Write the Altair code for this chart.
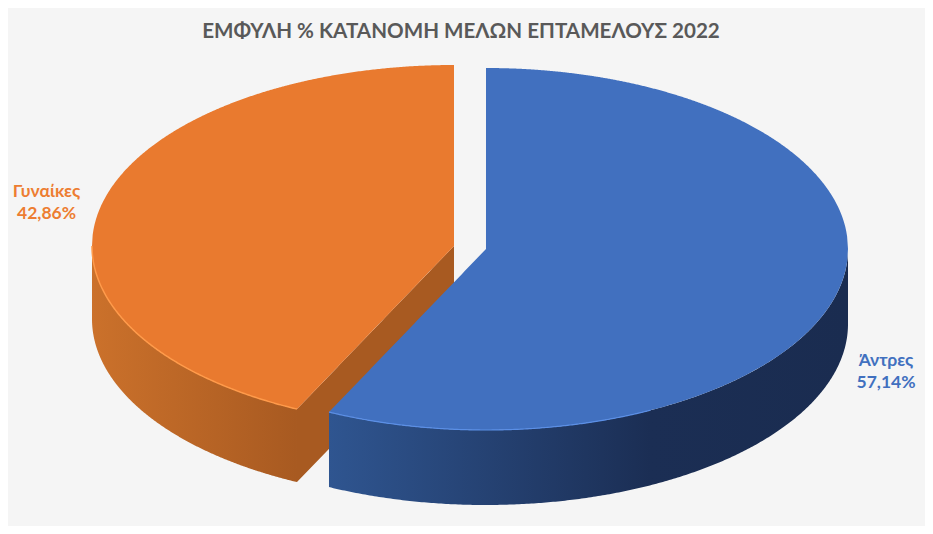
import numpy as np
import pandas as pd
import altair as alt

TITLE = "ΕΜΦΥΛΗ % ΚΑΤΑΝΟΜΗ ΜΕΛΩΝ ΕΠΤΑΜΕΛΟΥΣ 2022"
categories = ["Άντρες", "Γυναίκες"]
shares = [57.14, 42.86]
value_labels = ["57,14%", "42,86%"]
top_colors = ["#4170BF", "#E97A2F"]
rim_colors = ["#5B8FE6", "#FF9A4A"]

RX, RY = 362, 181
DEPTH_BLUE, DEPTH_ORANGE = 75, 73
CENTERS = {"Άντρες": (486, 249), "Γυναίκες": (454, 246)}
split = shares[0] / sum(shares) * 2 * np.pi   # clockwise from 12 o'clock


def rim(cx, cy, a):
    return cx + RX * np.sin(a), cy - RY * np.cos(a)


def ellipse_half(cx, cy, xs, sign):
    return cy + sign * RY * np.sqrt(np.clip(1 - ((xs - cx) / RX) ** 2, 0, 1))


def sector_blue():
    cx, cy = CENTERS["Άντρες"]
    ex, ey = rim(cx, cy, split)
    xs = np.unique(np.r_[np.linspace(ex, cx - 0.001, 60), np.linspace(cx, cx + RX, 400)])
    up = np.where(xs < cx, cy + (xs - cx) * (ey - cy) / (ex - cx), ellipse_half(cx, cy, xs, -1))
    lo = ellipse_half(cx, cy, xs, 1)
    return pd.DataFrame({"x": xs, "y": up, "y2": lo})


def sector_orange():
    cx, cy = CENTERS["Γυναίκες"]
    ex, ey = rim(cx, cy, split)
    xs = np.unique(np.r_[np.linspace(cx - RX, ex, 300), np.linspace(ex, cx, 100)])
    up = ellipse_half(cx, cy, xs, -1)
    lo = np.where(xs > ex, cy + (xs - cx) * (ey - cy) / (ex - cx), ellipse_half(cx, cy, xs, 1))
    return pd.DataFrame({"x": xs, "y": up, "y2": lo})


def wall(center, a0, a1, depth):
    cx, cy = center
    a = np.linspace(a0, a1, 300)
    x, y = rim(cx, cy, a)
    return pd.DataFrame({"x": x, "y": y, "y2": y + depth}).sort_values("x")


def cut_wall():
    cx, cy = CENTERS["Γυναίκες"]
    ex, ey = rim(cx, cy, split)
    xs = np.linspace(ex, cx, 60)
    y = cy + (xs - cx) * (ey - cy) / (ex - cx)
    return pd.DataFrame({"x": xs, "y": y, "y2": y + DEPTH_ORANGE})


X = alt.Scale(domain=[8, 925], range=[0, 917], nice=False, zero=False)
Y = alt.Scale(domain=[8, 526], range=[0, 518], nice=False, zero=False)
ex_ = alt.X("x:Q", scale=X, axis=None)
ey_ = alt.Y("y:Q", scale=Y, axis=None)


def area(df, color):
    return alt.Chart(df).mark_area(color=color, interpolate="linear", opacity=1).encode(
        x=ex_, y=ey_, y2="y2:Q"
    )


def line(df, color, width):
    return alt.Chart(df).mark_line(color=color, strokeWidth=width, interpolate="linear").encode(
        x=ex_, y=ey_, order="o:Q"
    )


def rim_line(center, a0, a1):
    x, y = rim(*center, np.linspace(a0, a1, 200))
    return pd.DataFrame({"x": x, "y": y, "o": np.arange(200)})


orange_grad = alt.Gradient(
    gradient="linear", x1=0, x2=1, y1=0, y2=0,
    stops=[alt.GradientStop(color="#CB712B", offset=0), alt.GradientStop(color="#A85A21", offset=1)],
)
blue_grad = alt.Gradient(
    gradient="linear", x1=0, x2=1, y1=0, y2=0,
    stops=[
        alt.GradientStop(color="#2F5590", offset=0),
        alt.GradientStop(color="#1B2E54", offset=0.62),
        alt.GradientStop(color="#1A2C50", offset=1),
    ],
)

cO, cB = CENTERS["Γυναίκες"], CENTERS["Άντρες"]
layers = [
    area(cut_wall(), "#A85A21"),
    area(wall(cO, split, 1.5 * np.pi, DEPTH_ORANGE), orange_grad),
    area(sector_orange(), top_colors[1]),
    line(rim_line(cO, split, 1.5 * np.pi), rim_colors[1], 1.5),
    area(wall(cB, 0.5 * np.pi, split, DEPTH_BLUE), blue_grad),
    area(sector_blue(), top_colors[0]),
    line(rim_line(cB, 0.85 * np.pi, split), rim_colors[0], 1.2),
]

labels = pd.DataFrame({
    "x": [886, 886, 46.5, 46.5],
    "y": [361, 383, 192, 214],
    "t": [categories[0], value_labels[0], categories[1], value_labels[1]],
    "c": [top_colors[0], top_colors[0], "#ED7D31", "#ED7D31"],
})
text = alt.Chart(labels).mark_text(font="Lato", fontSize=17.5, fontWeight="bold", align="center", baseline="middle").encode(
    x=ex_, y=ey_, text="t:N", color=alt.Color("c:N", scale=None)
)
title = alt.Chart(pd.DataFrame({"x": [461], "y": [32], "t": [TITLE]})).mark_text(
    font="Lato", fontSize=20.6, fontWeight="bold", color="#595959", align="center", baseline="middle"
).encode(x=ex_, y=ey_, text="t:N")

chart = alt.layer(*layers, text, title).properties(
    width=917, height=518, background="#F5F5F5",
    padding=0, autosize=alt.AutoSizeParams(type="none"),
).configure_view(stroke=None)

chart.save("out.html", embed_options={"renderer": "svg", "actions": False})
